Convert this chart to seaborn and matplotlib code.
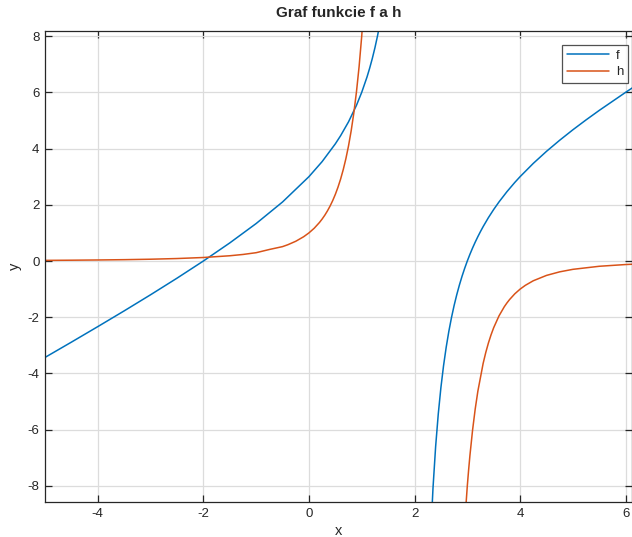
import numpy as np
import pandas as pd
import seaborn as sns
import matplotlib.pyplot as plt

# values, two branches per curve (pole near x = 2)
f_x1 = [-5, -4.5, -4, -3.5, -3, -2.5, -2, -1.5, -1, -0.5, 0, 0.25, 0.5, 0.6,
        0.75, 0.9, 1.0, 1.1, 1.15, 1.2, 1.25, 1.3, 1.35, 1.4]
f_y1 = [-3.429, -2.885, -2.333, -1.773, -1.2, -0.611, 0, 0.643, 1.333, 2.1, 3,
        3.536, 4.167, 4.457, 4.95, 5.536, 6, 6.544, 6.856, 7.2, 7.583, 8.014,
        8.504, 9.067]
f_x2 = [2.3, 2.35, 2.4, 2.45, 2.5, 2.55, 2.6, 2.65, 2.7, 2.75, 2.8, 2.85, 2.9,
        2.95, 3.0, 3.05, 3.1, 3.15, 3.2, 3.25, 3.3, 3.4, 3.5, 3.6, 3.75, 3.9,
        4.0, 4.25, 4.5, 4.75, 5.0, 5.25, 5.5, 6.0, 6.2]
f_y2 = [-10.033, -8.079, -6.6, -5.439, -4.5, -3.723, -3.067, -2.504, -2.014,
        -1.583, -1.2, -0.856, -0.544, -0.261, 0, 0.240, 0.464, 0.672, 0.867,
        1.05, 1.223, 1.543, 1.833, 2.1, 2.464, 2.795, 3, 3.472, 3.9, 4.295,
        4.667, 5.019, 5.357, 6, 6.248]

h_x1 = [-5, -4.5, -4, -3.5, -3, -2.5, -2, -1.5, -1.25, -1, -0.75, -0.5, -0.4,
        -0.25, -0.1, 0, 0.1, 0.2, 0.25, 0.3, 0.35, 0.4, 0.45, 0.5, 0.55, 0.6,
        0.65, 0.7, 0.75, 0.8, 0.85, 0.9, 0.95, 1.0, 1.05, 1.1]
h_y1 = [0.023, 0.029, 0.037, 0.048, 0.064, 0.088, 0.125, 0.187, 0.233, 0.296,
        0.410, 0.512, 0.579, 0.702, 0.864, 1, 1.166, 1.372, 1.493, 1.628,
        1.781, 1.953, 2.148, 2.370, 2.624, 2.915, 3.252, 3.641, 4.096, 4.630,
        5.260, 6.011, 6.910, 8, 9.33, 10.97]
h_x2 = [2.95, 3.0, 3.025, 3.05, 3.1, 3.15, 3.2, 3.3, 3.35, 3.4, 3.45, 3.5, 3.6,
        3.7, 3.75, 3.8, 3.9, 4.0, 4.1, 4.25, 4.5, 4.75, 5.0, 5.5, 6.0, 6.2]
h_y2 = [-9.33, -8, -7.43, -6.910, -6.011, -5.260, -4.630, -3.641, -3.252,
        -2.915, -2.624, -2.370, -1.953, -1.628, -1.493, -1.372, -1.166, -1,
        -0.864, -0.702, -0.512, -0.385, -0.296, -0.187, -0.125, -0.108]

x_ticks = [-4, -2, 0, 2, 4, 6]
y_ticks = [-8, -6, -4, -2, 0, 2, 4, 6, 8]

sns.set_style("whitegrid")
plt.rcParams['font.family'] = ['Liberation Sans', 'DejaVu Sans']
plt.rcParams['axes.unicode_minus'] = False

blue = '#0072BD'
orange = '#D95319'

fig = plt.figure(figsize=(6.32, 5.37), dpi=100)
ax = fig.add_axes([45 / 632, 35 / 537, 587 / 632, 471 / 537])

sns.lineplot(x=f_x1, y=f_y1, color=blue, lw=1.1, label='f', sort=False, ax=ax)
sns.lineplot(x=f_x2, y=f_y2, color=blue, lw=1.1, sort=False, ax=ax)
sns.lineplot(x=h_x1, y=h_y1, color=orange, lw=1.1, label='h', sort=False, ax=ax)
sns.lineplot(x=h_x2, y=h_y2, color=orange, lw=1.1, sort=False, ax=ax)

ax.set_xlim(-5, 6.12)
ax.set_ylim(-8.57, 8.18)
ax.set_xticks(x_ticks)
ax.set_yticks(y_ticks)
ax.grid(True, color='#dcdcdc', lw=0.9)
for s in ax.spines.values():
    s.set_color('#262626')
    s.set_linewidth(0.9)
ax.tick_params(direction='in', length=5, width=0.9, color='#262626',
               labelsize=9.5, labelcolor='#262626', top=True, right=True,
               bottom=True, left=True, pad=4)

ax.set_xlabel('x', fontsize=10.5, color='#262626', labelpad=3)
ax.set_ylabel('y', fontsize=10.5, color='#262626', labelpad=4)
ax.set_title('Graf funkcie f a h', fontsize=11, fontweight='bold', pad=10)

leg = ax.legend(loc='upper right', bbox_to_anchor=(0.993, 0.970), fontsize=9.5,
                frameon=True, fancybox=False, handlelength=3.2, borderpad=0.35,
                labelspacing=0.3, handletextpad=0.5, borderaxespad=0)
leg.get_frame().set_edgecolor('#262626')
leg.get_frame().set_linewidth(0.9)

fig.savefig('out.png', dpi=100, facecolor='white')
